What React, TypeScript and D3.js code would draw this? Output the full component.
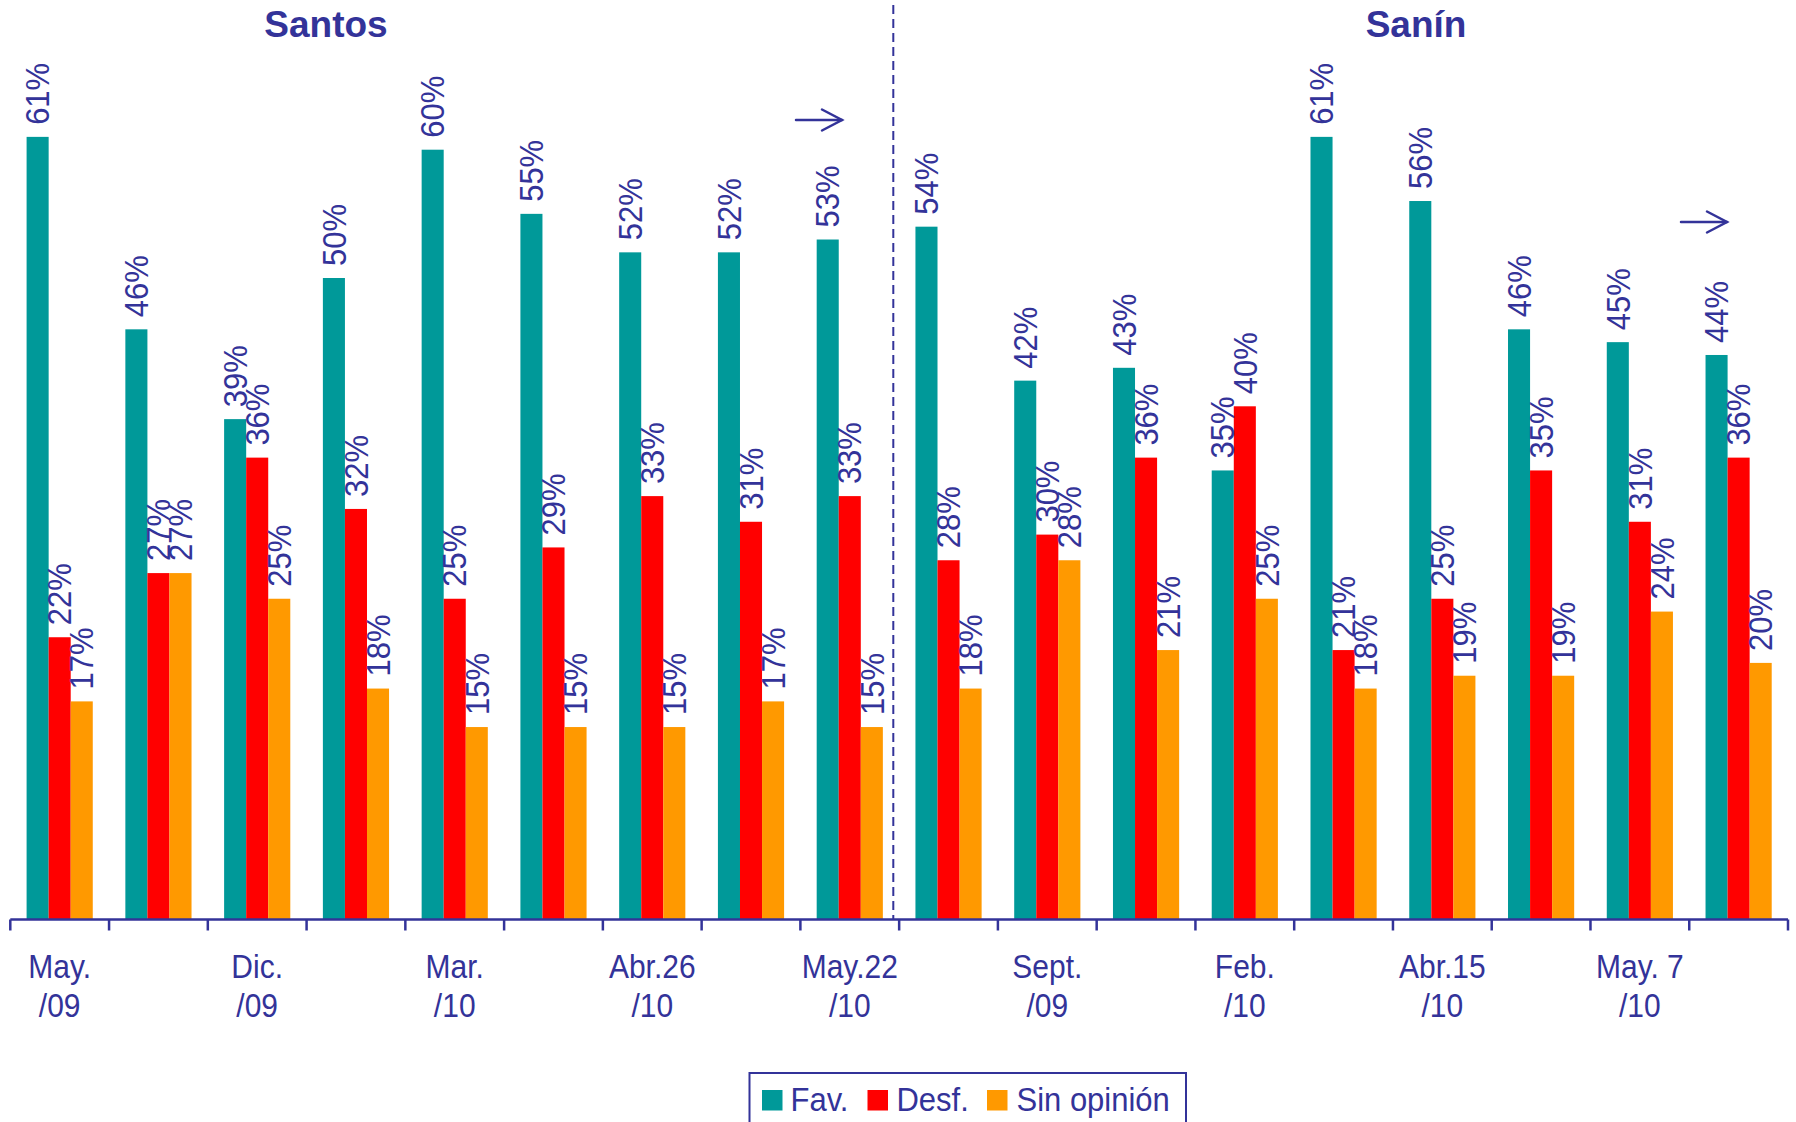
import React from "react";
import * as d3 from "d3";

const categories: string[][] = [
  ["May.", "/09"], ["", ""], ["Dic.", "/09"], ["", ""], ["Mar.", "/10"], ["", ""],
  ["Abr.26", "/10"], ["", ""], ["May.22", "/10"],
  ["", ""], ["Sept.", "/09"], ["", ""], ["Feb.", "/10"], ["", ""],
  ["Abr.15", "/10"], ["", ""], ["May. 7", "/10"], ["", ""],
];
const fav = [61, 46, 39, 50, 60, 55, 52, 52, 53, 54, 42, 43, 35, 61, 56, 46, 45, 44];
const desf = [22, 27, 36, 32, 25, 29, 33, 31, 33, 28, 30, 36, 40, 21, 25, 35, 31, 36];
const sinOpinion = [17, 27, 25, 18, 15, 15, 15, 17, 15, 18, 28, 21, 25, 18, 19, 19, 24, 20];
const seriesNames = ["Fav.", "Desf.", "Sin opinión"];
const seriesColors = ["#009999", "#FF0000", "#FF9900"];
const groupTitles = ["Santos", "Sanín"];

const NAVY = "#333399";
const FONT = "'Liberation Sans', Arial, sans-serif";

export default function App() {
  const W = 1796, H = 1122;
  const x0 = 10.3, x1 = 1788, y0 = 919.5;
  const idx = categories.map((_, i) => i);
  const xBand = d3.scaleBand<number>().domain(idx).range([x0, x1]).paddingInner(0.33).paddingOuter(0.165);
  const step = xBand.step();
  const xInner = d3.scaleBand<number>().domain([0, 1, 2]).range([0, xBand.bandwidth()]);
  const y = d3.scaleLinear().domain([0, 70]).range([y0, y0 - 70 * 12.83]);
  const series = [fav, desf, sinOpinion];
  const boundaries = d3.range(categories.length + 1).map((i) => x0 + i * step);

  const bars: React.ReactNode[] = [];
  const labels: React.ReactNode[] = [];
  series.forEach((vals, s) => {
    vals.forEach((v, i) => {
      const bx = (xBand(i) as number) + (xInner(s) as number);
      const bw = xInner.bandwidth();
      const top = y(v);
      bars.push(<rect key={`b${s}-${i}`} x={bx} y={top} width={bw} height={y0 - top} fill={seriesColors[s]} />);
      const cx = bx + bw / 2;
      const ly = top - 12;
      labels.push(
        <text key={`l${s}-${i}`} transform={`translate(${cx},${ly}) rotate(-90) scale(1,1.08)`} dy="0.35em"
          fontSize={31} fill={NAVY} fontFamily={FONT} textAnchor="start">{`${v}%`}</text>
      );
    });
  });

  const arrow = (ax: number, ay: number, key: string) => (
    <g key={key} stroke={NAVY} strokeWidth={2.5} fill="none" strokeLinecap="round">
      <line x1={ax} y1={ay} x2={ax + 46} y2={ay} />
      <polyline points={`${ax + 26},${ay - 10.5} ${ax + 46},${ay} ${ax + 26},${ay + 10.5}`} />
    </g>
  );

  const legendX = [762, 867.5, 987];
  const legendTextX = [790.5, 896.5, 1016.5];

  return (
    <svg width={W} height={H} style={{ position: "absolute", left: 0, top: 0, background: "#fff" }}>
      <rect x={0} y={0} width={W} height={H} fill="#fff" />
      {bars}
      <line x1={893.3} y1={5} x2={893.3} y2={y0} stroke={NAVY} strokeWidth={2} strokeDasharray="9,5" />
      <line x1={x0} y1={y0} x2={x1} y2={y0} stroke={NAVY} strokeWidth={2.5} />
      {boundaries.map((bx, i) => (
        <line key={`t${i}`} x1={bx} y1={y0} x2={bx} y2={y0 + 11} stroke={NAVY} strokeWidth={2.5} />
      ))}
      {labels}
      {categories.map((c, i) => {
        const cx = (xBand(i) as number) + xBand.bandwidth() / 2;
        return (
          <g key={`c${i}`} fontFamily={FONT} fontSize={30} fill={NAVY} textAnchor="middle">
            <text transform={`translate(${cx},978) scale(1,1.12)`}>{c[0]}</text>
            <text transform={`translate(${cx},1017) scale(1,1.12)`}>{c[1]}</text>
          </g>
        );
      })}
      <text x={326} y={37} textAnchor="middle" fontFamily={FONT} fontWeight="bold" fontSize={37} fill={NAVY}>{groupTitles[0]}</text>
      <text x={1416} y={37} textAnchor="middle" fontFamily={FONT} fontWeight="bold" fontSize={37} fill={NAVY}>{groupTitles[1]}</text>
      {arrow(796, 120, "a1")}
      {arrow(1681, 222, "a2")}
      <rect x={749.5} y={1073} width={436.5} height={70} fill="none" stroke={NAVY} strokeWidth={2} />
      {seriesNames.map((n, s) => (
        <g key={`lg${s}`}>
          <rect x={legendX[s]} y={1090} width={20.5} height={20.5} fill={seriesColors[s]} />
          <text transform={`translate(${legendTextX[s]},1110.5) scale(1,1.05)`} fontFamily={FONT} fontSize={31} fill={NAVY}>{n}</text>
        </g>
      ))}
    </svg>
  );
}
